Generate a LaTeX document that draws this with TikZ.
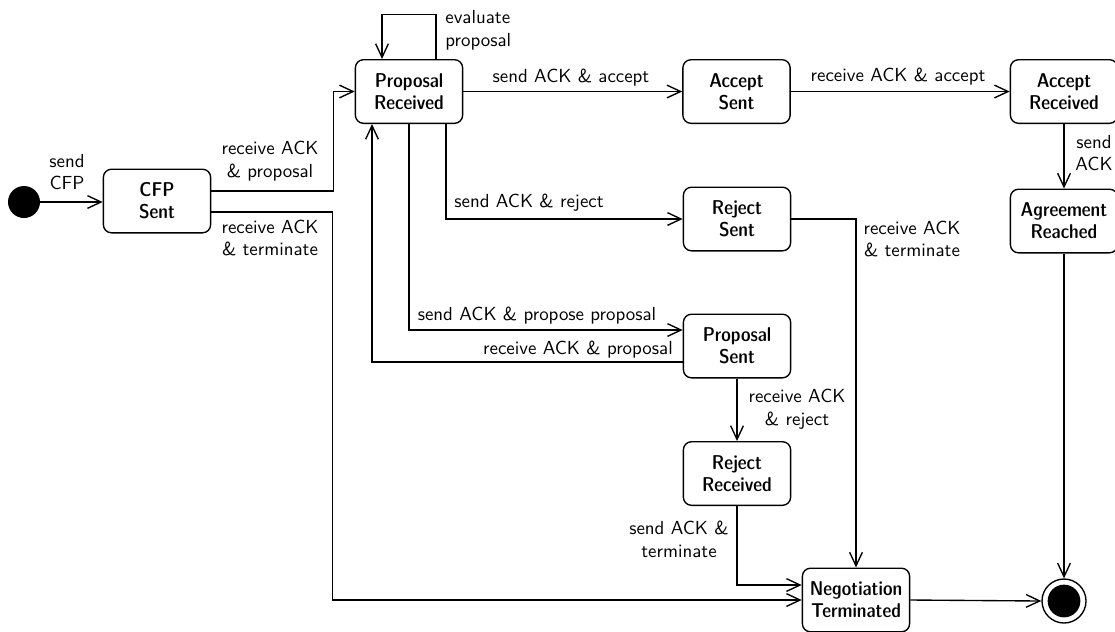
\documentclass[tikz,border=0pt]{standalone}
\usetikzlibrary{arrows.meta,calc}
\begin{document}
\begin{tikzpicture}[x=0.55pt,y=-0.55pt,
  st/.style={draw, line width=0.75pt, rounded corners=4.5pt, minimum width=59pt, minimum height=35pt, inner sep=0pt, align=center, font=\sffamily\fontseries{sbc}\fontsize{11pt}{12pt}\selectfont},
  lbl/.style={align=center, inner sep=0pt, font=\sffamily\fontsize{10.4pt}{12.6pt}\selectfont},
  arr/.style={line width=0.75pt, -{Straight Barb[length=7.5pt,width=7pt,line width=0.75pt]}}]
\useasboundingbox (0,0) rectangle (1115,631);

% states
\node[st] (cfp) at (157,201) {CFP\\Sent};
\node[st] (pr) at (409,91.5) {Proposal\\Received};
\node[st] (as) at (736.5,91.5) {Accept\\Sent};
\node[st] (ar) at (1064,91.5) {Accept\\Received};
\node[st] (rs) at (737,219) {Reject\\Sent};
\node[st] (agr) at (1064,221) {Agreement\\Reached};
\node[st] (ps) at (737,346) {Proposal\\Sent};
\node[st] (rr) at (737,473.5) {Reject\\Received};
\node[st] (nt) at (856,600) {Negotiation\\Terminated};
\node[circle, fill, inner sep=0pt, minimum size=17.6pt] (init) at (24,202) {};
\node[circle, draw, line width=0.75pt, inner sep=0pt, minimum size=24.2pt] (fin) at (1064,601) {};
\node[circle, fill, inner sep=0pt, minimum size=18pt] (fincore) at (fin.center) {};

% transitions
\draw[arr] (init.east) -- (init.east -| cfp.west);
\draw[arr] ($(cfp.east)+(0,-10)$) -| ($(pr.west)+(-21,0)$) -- (pr.west);
\draw[arr] ($(cfp.east)+(0,11)$) -| ($(nt.west)+(-469,0)$) -- (nt.west);
\draw[arr] ($(pr.north)+(27,0)$) -- ++(0,-44.5) -| ($(pr.north)+(-27,0)$);
\draw[arr] (pr.east) -- (as.west);
\draw[arr] (as.east) -- (ar.west);
\draw[arr] (ar.south) -- (agr.north);
\draw[arr] (agr.south) -- (fin.north);
\draw[arr] ($(pr.south)+(37,0)$) |- (rs.west);
\draw[arr] (pr.south) |- ($(ps.west)+(0,-16)$);
\draw[arr] ($(ps.west)+(0,16)$) -| ($(pr.south)+(-37,0)$);
\draw[arr] (ps.south) -- (rr.north);
\draw[arr] (rr.south) |- ($(nt.west)+(0,-15)$);
\draw[arr] (rs.east) -| (nt.north);
\draw[arr] (nt.east) -- (fin.west);

% labels
\node[lbl] (l1) at (67,172) {send\\CFP};
\node[lbl] (l2) at (270,161) {receive ACK\\\& proposal};
\node[lbl] (l3) at (270,238) {receive ACK\\\& terminate};
\node[lbl, anchor=west, align=left] (l4) at (445,30.5) {evaluate\\proposal};
\node[lbl] (l5) at (571,78) {send ACK \& accept};
\node[lbl] (l6) at (898,77) {receive ACK \& accept};
\node[lbl] (l7) at (1094,153) {send\\ACK};
\node[lbl] (l8) at (529,203) {send ACK \& reject};
\node[lbl] (l9) at (912,239) {receive ACK\\\& terminate};
\node[lbl] (l10) at (537,316) {send ACK \& propose proposal};
\node[lbl] (l11) at (578,350) {receive ACK \& proposal};
\node[lbl] (l12) at (797,409) {receive ACK\\\& reject};
\node[lbl] (l13) at (679,539) {send ACK \&\\terminate};
\end{tikzpicture}
\end{document}
